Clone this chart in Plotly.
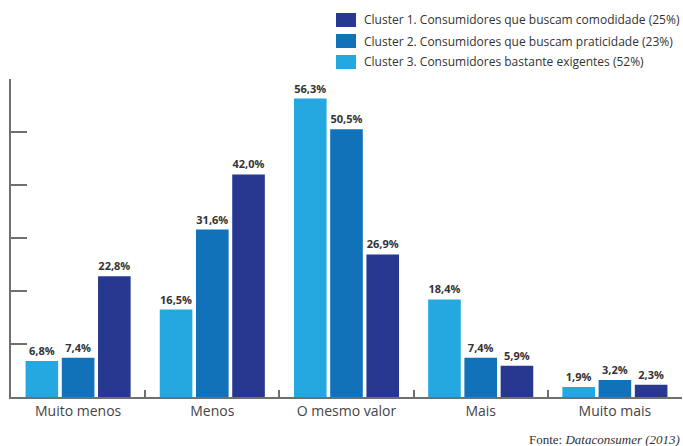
import plotly.graph_objects as go

# Price perception by consumer cluster (%)
categories = ["Muito menos", "Menos", "O mesmo valor", "Mais", "Muito mais"]
cluster3 = [6.8, 16.5, 56.3, 18.4, 1.9]
cluster2 = [7.4, 31.6, 50.5, 7.4, 3.2]
cluster1 = [22.8, 42.0, 26.9, 5.9, 2.3]

series_names = [
    "Cluster 1. Consumidores que buscam comodidade (25%)",
    "Cluster 2. Consumidores que buscam praticidade (23%)",
    "Cluster 3. Consumidores bastante exigentes (52%)",
]
colors = ["#283891", "#1172BA", "#25A8E0"]
y_ticks = [0, 10, 20, 30, 40, 50, 60]

W, H = 683, 446
L, R, T, B = 11, 1, 79, 49
PW, PH = W - L - R, H - T - B


def pct(v):
    return f"{v:.1f}".replace(".", ",") + "%"


fig = go.Figure()
# drawn left to right: cluster 3, cluster 2, cluster 1
for vals, color in [(cluster3, colors[2]), (cluster2, colors[1]), (cluster1, colors[0])]:
    fig.add_trace(go.Bar(
        x=categories, y=vals, marker=dict(color=color, line=dict(width=0)),
        text=[pct(v) for v in vals], textposition="outside",
        textfont=dict(family="Open Sans", size=11, color="#333333", weight="bold"),
        cliponaxis=False, showlegend=False, hoverinfo="skip",
    ))

axis_color = "#707070"
fig.update_layout(
    width=W, height=H,
    margin=dict(l=L, r=R, t=T, b=B),
    paper_bgcolor="white", plot_bgcolor="white",
    barmode="group", bargap=0.19, bargroupgap=0.1,
    font=dict(family="Open Sans", color="#333333"),
    xaxis=dict(
        showline=True, linecolor=axis_color, linewidth=1.5,
        ticks="inside", tickson="boundaries", ticklen=7, tickcolor=axis_color, tickwidth=1.5,
        tickfont=dict(family="Open Sans", size=14, color="#444444"),
        showgrid=False, zeroline=False, fixedrange=True,
    ),
    yaxis=dict(
        range=[0, 60], tickvals=y_ticks, showticklabels=False,
        showline=True, linecolor=axis_color, linewidth=1.5,
        ticks="inside", ticklen=16, tickcolor=axis_color, tickwidth=1.5,
        showgrid=False, zeroline=False, fixedrange=True,
    ),
)

# legend block, top right
shapes = []
annotations = []
for i, (name, color) in enumerate(zip(series_names, colors)):
    cy = 20 + 21 * i
    x0, x1 = 336, 356
    shapes.append(dict(
        type="rect", xref="paper", yref="paper",
        x0=(x0 - L) / PW, x1=(x1 - L) / PW,
        y0=(H - B - (cy + 7)) / PH, y1=(H - B - (cy - 7)) / PH,
        fillcolor=color, line=dict(width=0),
    ))
    annotations.append(dict(
        text=name, xref="paper", yref="paper",
        x=(362 - L) / PW, y=(H - B - cy) / PH,
        xanchor="left", yanchor="middle", showarrow=False,
        font=dict(family="Open Sans", size=12, color="#333333"),
    ))

annotations.append(dict(
    text="Fonte: <i>Dataconsumer (2013)</i>", xref="paper", yref="paper",
    x=1, y=(H - B - 439) / PH, xanchor="right", yanchor="middle", showarrow=False,
    font=dict(family="Liberation Serif", size=13, color="#333333"),
))

fig.update_layout(shapes=shapes, annotations=annotations)
fig.write_html("out.html")
